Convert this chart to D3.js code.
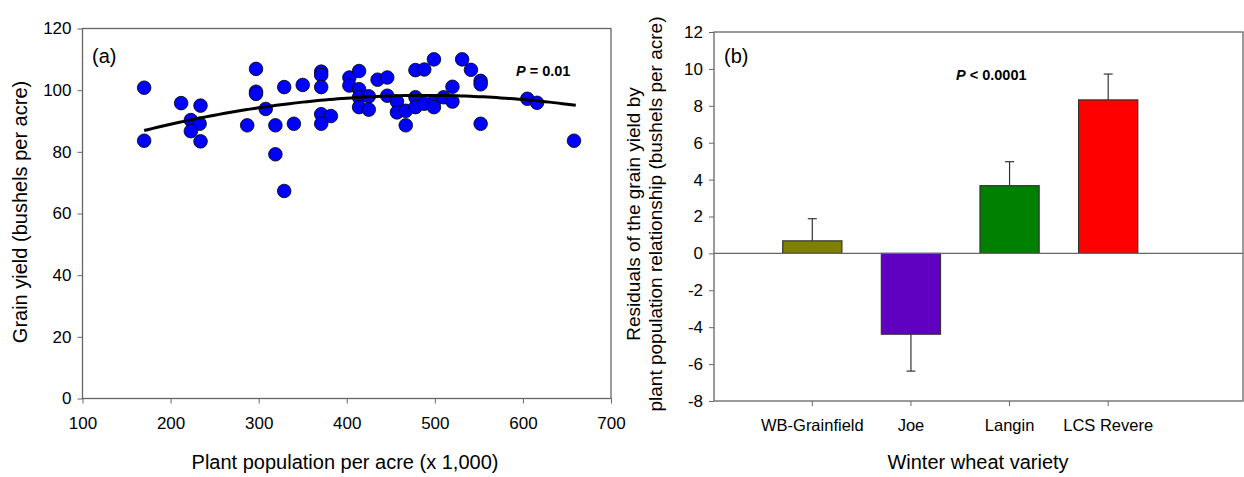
<!DOCTYPE html>
<html>
<head>
<meta charset="utf-8">
<script src="https://cdn.jsdelivr.net/npm/d3@7"></script>
<style>
  body { margin: 0; background: #fff; }
  text { font-family: Arial, "Liberation Sans", sans-serif; fill: #000; }
</style>
</head>
<body>
<svg width="1244" height="477"></svg>
<script>
var svg = d3.select('svg');

// panel (a): plant population (x 1,000) vs grain yield
var popX = [170, 170, 212, 234, 223, 233, 223, 234, 297, 297, 297, 308, 287, 319, 340,
    329, 350, 371, 371, 371, 371, 382, 371, 319, 329, 403, 414, 403, 414, 414,
    425, 414, 425, 435, 446, 446, 457, 457, 467, 467, 478, 488, 499, 478, 478,
    488, 499, 499, 510, 520, 520, 531, 541, 552, 552, 552, 605, 616, 658];
var yieldY = [100.8, 83.6, 95.8, 95.0, 90.3, 89.1, 86.7, 83.4, 106.9, 99.5, 98.8, 93.9, 88.6, 88.6, 89.1,
    101.0, 101.7, 106.0, 104.9, 101.0, 92.2, 91.6, 89.1, 79.2, 67.3, 104.1, 106.2, 101.5, 100.3, 97.7,
    98.0, 94.5, 93.7, 103.4, 104.1, 98.2, 96.3, 92.8, 93.3, 88.6, 106.5, 106.7, 110.0, 97.7, 94.5,
    95.6, 96.3, 94.5, 97.7, 101.1, 96.3, 110.0, 106.6, 103.0, 101.9, 89.1, 97.2, 95.9, 83.6];
// quadratic fit: a + b*x + c*x^2
var fitCoef = [71.58, 0.10907, -0.0001113];
var fitRange = [170, 660];

// panel (b): residuals by variety
var varieties = ['WB-Grainfield', 'Joe', 'Langin', 'LCS Revere'];
var residuals = [0.68, -4.38, 3.67, 8.32];
var resErr = [1.2, 2.0, 1.3, 1.4];
var barColors = ['#808000', '#6000c0', '#008000', '#ff0000'];

var axisColor = '#666';

function styleAxis(g) {
    g.selectAll('.domain').remove();
    g.selectAll('.tick line').attr('stroke', axisColor);
    g.selectAll('.tick text').attr('font-size', 17).attr('font-family', 'Arial, "Liberation Sans", sans-serif').attr('fill', '#000');
}
// plain hyphen for negatives, like the original
var plain = function(d) { return String(d); };

// ---------- panel (a) ----------
var ax = d3.scaleLinear().domain([100, 700]).range([82.5, 611]);
var ay = d3.scaleLinear().domain([0, 120]).range([398.5, 28.5]);

var pa = svg.append('g');
pa.append('rect')
    .attr('x', ax(100)).attr('y', ay(120))
    .attr('width', ax(700) - ax(100)).attr('height', ay(0) - ay(120))
    .attr('fill', 'none').attr('stroke', axisColor).attr('stroke-width', 1.3);

pa.append('g').attr('transform', 'translate(0,' + ay(0) + ')')
    .call(d3.axisBottom(ax).tickValues([100, 200, 300, 400, 500, 600, 700]).tickFormat(plain).tickSize(5).tickPadding(13))
    .call(styleAxis);
pa.append('g').attr('transform', 'translate(' + ax(100) + ',0)')
    .call(d3.axisLeft(ay).tickValues([0, 20, 40, 60, 80, 100, 120]).tickFormat(plain).tickSize(5).tickPadding(6))
    .call(styleAxis);

var fitPts = d3.range(fitRange[0], fitRange[1] + 1, 5).map(function(x) {
    return [x, fitCoef[0] + fitCoef[1] * x + fitCoef[2] * x * x];
});

pa.selectAll('circle')
    .data(popX.map(function(x, i) { return {x: x, y: yieldY[i]}; }))
    .enter()
    .append('circle')
    .attr('cx', function(d) { return ax(d.x); })
    .attr('cy', function(d) { return ay(d.y); })
    .attr('r', 6.8)
    .attr('fill', '#0000ff')
    .attr('stroke', '#000')
    .attr('stroke-width', 0.8);

pa.append('path')
    .datum(fitPts)
    .attr('d', d3.line().x(function(d) { return ax(d[0]); }).y(function(d) { return ay(d[1]); }))
    .attr('fill', 'none').attr('stroke', '#000').attr('stroke-width', 3);

pa.append('text').attr('x', 92).attr('y', 63).attr('font-size', 20).text('(a)');
var pt = pa.append('text').attr('x', 516).attr('y', 76).attr('font-size', 14.5).attr('font-weight', 'bold');
pt.append('tspan').attr('font-style', 'italic').text('P');
pt.append('tspan').text(' = 0.01');

pa.append('text').attr('x', 345).attr('y', 469).attr('text-anchor', 'middle').attr('font-size', 20)
    .text('Plant population per acre (x 1,000)');
pa.append('text').attr('transform', 'translate(27,212) rotate(-90)').attr('text-anchor', 'middle').attr('font-size', 20)
    .text('Grain yield (bushels per acre)');

// ---------- panel (b) ----------
var bx = d3.scaleBand().domain(varieties).range([763, 1157.5]).paddingInner(0.4).paddingOuter(0.2);
var by = d3.scaleLinear().domain([-8, 12]).range([401, 32]);
var bLeft = 714, bRight = 1243;

var pb = svg.append('g');
pb.append('rect')
    .attr('x', bLeft).attr('y', by(12))
    .attr('width', bRight - bLeft).attr('height', by(-8) - by(12))
    .attr('fill', 'none').attr('stroke', axisColor).attr('stroke-width', 1.3);

var bxAxis = pb.append('g').attr('transform', 'translate(0,' + by(-8) + ')')
    .call(d3.axisBottom(bx).tickSize(5).tickPadding(13))
    .call(styleAxis);
bxAxis.selectAll('.tick text').attr('font-size', 16.5);
pb.append('g').attr('transform', 'translate(' + bLeft + ',0)')
    .call(d3.axisLeft(by).tickValues(d3.range(-8, 13, 2)).tickFormat(plain).tickSize(5).tickPadding(6))
    .call(styleAxis);

var bars = varieties.map(function(v, i) {
    return {name: v, val: residuals[i], err: resErr[i], color: barColors[i]};
});

// error bars (one-sided, away from zero)
pb.selectAll('line.err')
    .data(bars)
    .enter()
    .append('line')
    .attr('class', 'err')
    .attr('x1', function(d) { return bx(d.name) + bx.bandwidth() / 2; })
    .attr('x2', function(d) { return bx(d.name) + bx.bandwidth() / 2; })
    .attr('y1', function(d) { return by(d.val); })
    .attr('y2', function(d) { return by(d.val + (d.val < 0 ? -d.err : d.err)); })
    .attr('stroke', '#333').attr('stroke-width', 1.2);
pb.selectAll('line.cap')
    .data(bars)
    .enter()
    .append('line')
    .attr('class', 'cap')
    .attr('x1', function(d) { return bx(d.name) + bx.bandwidth() / 2 - 4.5; })
    .attr('x2', function(d) { return bx(d.name) + bx.bandwidth() / 2 + 4.5; })
    .attr('y1', function(d) { return by(d.val + (d.val < 0 ? -d.err : d.err)); })
    .attr('y2', function(d) { return by(d.val + (d.val < 0 ? -d.err : d.err)); })
    .attr('stroke', '#333').attr('stroke-width', 1.2);

pb.selectAll('rect.bar')
    .data(bars)
    .enter()
    .append('rect')
    .attr('class', 'bar')
    .attr('x', function(d) { return bx(d.name); })
    .attr('y', function(d) { return by(Math.max(0, d.val)); })
    .attr('width', bx.bandwidth())
    .attr('height', function(d) { return Math.abs(by(d.val) - by(0)); })
    .attr('fill', function(d) { return d.color; })
    .attr('stroke', '#333').attr('stroke-width', 1.2);

pb.append('line')
    .attr('x1', bLeft).attr('x2', bRight)
    .attr('y1', by(0)).attr('y2', by(0))
    .attr('stroke', axisColor).attr('stroke-width', 1.3);

pb.append('text').attr('x', 724).attr('y', 63).attr('font-size', 20).text('(b)');
var pt2 = pb.append('text').attr('x', 956).attr('y', 80).attr('font-size', 14.5).attr('font-weight', 'bold');
pt2.append('tspan').attr('font-style', 'italic').text('P');
pt2.append('tspan').text(' < 0.0001');

pb.append('text').attr('x', 978).attr('y', 469).attr('text-anchor', 'middle').attr('font-size', 20)
    .text('Winter wheat variety');
pb.append('text').attr('transform', 'translate(640,214) rotate(-90)').attr('text-anchor', 'middle').attr('font-size', 19)
    .text('Residuals of the grain yield by');
pb.append('text').attr('transform', 'translate(662,214) rotate(-90)').attr('text-anchor', 'middle').attr('font-size', 19)
    .text('plant population relationship (bushels per acre)');
</script>
</body>
</html>
